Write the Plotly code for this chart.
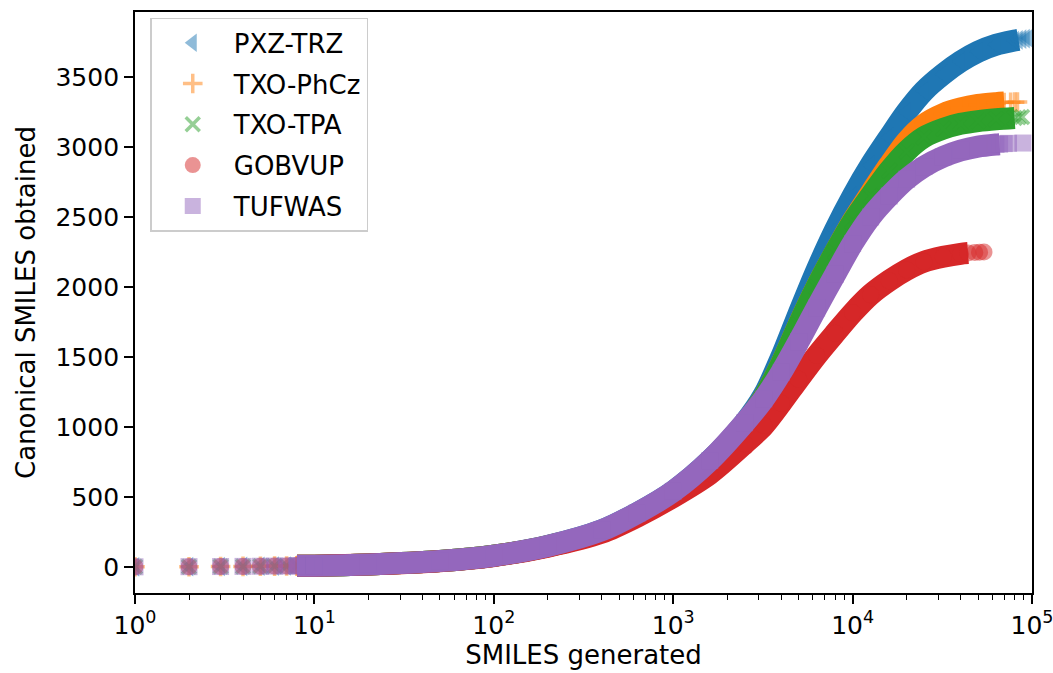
import plotly.graph_objects as go

# ---------------- data ----------------
names = ["PXZ-TRZ", "TXO-PhCz", "TXO-TPA", "GOBVUP", "TUFWAS"]
colors = ["#1f77b4", "#ff7f0e", "#2ca02c", "#d62728", "#9467bd"]
rgba = ["rgba(31,119,180,0.5)", "rgba(255,127,14,0.5)", "rgba(44,160,44,0.5)",
        "rgba(214,39,40,0.5)", "rgba(148,103,189,0.5)"]
symbols = ["triangle-left", "cross-thin", "x-thin", "circle", "square"]

# first few discrete points (shared by all runs)
low_x = [1, 2, 3, 4, 5, 6, 7, 8, 9, 10]
low_y = [1, 2, 3, 4, 5, 6, 7, 8, 9, 10]

# dense part of each run
pxz_x = [8, 10, 20, 50, 100, 200, 400, 630, 1000, 1600, 2500, 3200, 4000, 5000, 6300,
         8000, 10000, 12600, 16000, 20000, 25000, 32000, 40000, 50000, 63000, 80000, 84000]
pxz_y = [8, 9, 18, 42, 80, 150, 262, 385, 540, 760, 1030, 1230, 1500, 1810, 2120,
         2410, 2650, 2870, 3070, 3250, 3400, 3520, 3610, 3680, 3730, 3760, 3765]
pxz_end_x = [88000, 92000, 96000]
pxz_end_y = [3770, 3774, 3777]

phcz_x = [8, 10, 20, 50, 100, 200, 400, 630, 1000, 1600, 2500, 3200, 4000, 5000, 6300,
          8000, 10000, 12600, 16000, 20000, 25000, 32000, 40000, 50000, 63000, 70000]
phcz_y = [8, 9, 18, 42, 80, 148, 255, 375, 525, 745, 1020, 1210, 1450, 1730, 2000,
          2250, 2470, 2670, 2870, 3040, 3160, 3235, 3275, 3300, 3313, 3317]
phcz_end_x = [76000, 80000, 83000]
phcz_end_y = [3319, 3320, 3321]

tpa_x = [8, 10, 20, 50, 100, 200, 400, 630, 1000, 1600, 2500, 3200, 4000, 5000, 6300,
         8000, 10000, 12600, 16000, 20000, 25000, 32000, 40000, 50000, 63000, 80000]
tpa_y = [8, 9, 18, 42, 80, 148, 255, 375, 525, 745, 1020, 1210, 1450, 1730, 2000,
         2250, 2465, 2650, 2830, 2970, 3070, 3130, 3165, 3185, 3198, 3207]
tpa_end_x = [84000, 88000]
tpa_end_y = [3212, 3214]

gob_x = [8, 10, 20, 50, 100, 200, 400, 630, 1000, 1600, 2500, 3200, 4000, 5000, 6300,
         8000, 10000, 12600, 16000, 20000, 25000, 32000, 40000, 44000]
gob_y = [8, 9, 18, 41, 78, 145, 245, 360, 500, 665, 880, 1010, 1170, 1340, 1510,
         1670, 1815, 1945, 2045, 2122, 2180, 2215, 2237, 2242]
gob_end_x = [48000, 51000, 54000]
gob_end_y = [2246, 2248, 2250]

tuf_x = [8, 10, 20, 50, 100, 200, 400, 630, 1000, 1600, 2500, 3200, 4000, 5000, 6300,
         8000, 10000, 12600, 16000, 20000, 25000, 32000, 40000, 50000, 63000, 66000]
tuf_y = [8, 9, 18, 42, 80, 150, 262, 385, 540, 760, 1030, 1200, 1390, 1610, 1850,
         2090, 2310, 2500, 2650, 2770, 2860, 2930, 2975, 3003, 3018, 3020]
tuf_end_x = [70000, 74000, 89000]
tuf_end_y = [3024, 3026, 3028]

dense_x = [pxz_x, phcz_x, tpa_x, gob_x, tuf_x]
dense_y = [pxz_y, phcz_y, tpa_y, gob_y, tuf_y]
end_x = [pxz_end_x, phcz_end_x, tpa_end_x, gob_end_x, tuf_end_x]
end_y = [pxz_end_y, phcz_end_y, tpa_end_y, gob_end_y, tuf_end_y]

x_tick_vals = [1, 10, 100, 1000, 10000, 100000]
x_tick_text = ["10<sup>0</sup>", "10<sup>1</sup>", "10<sup>2</sup>",
               "10<sup>3</sup>", "10<sup>4</sup>", "10<sup>5</sup>"]
y_tick_vals = [0, 500, 1000, 1500, 2000, 2500, 3000, 3500]
minor_vals = [m * 10 ** k for k in range(5) for m in range(2, 10)]

# ---------------- figure ----------------
FONT = "DejaVu Sans"
fig = go.Figure()
for i, name in enumerate(names):
    # dense band
    fig.add_trace(go.Scatter(
        x=dense_x[i], y=dense_y[i], mode="lines",
        line=dict(color=colors[i], width=22, shape="spline", smoothing=0.8),
        showlegend=False, legendgroup=name, hoverinfo="skip"))
    mx = low_x + dense_x[i] + end_x[i]
    my = low_y + dense_y[i] + end_y[i]
    thin = symbols[i] in ("cross-thin", "x-thin")
    marker = dict(symbol=symbols[i], size=14 if thin else 17, color=rgba[i],
                  line=dict(color=rgba[i], width=3.5 if thin else 0))
    fig.add_trace(go.Scatter(
        x=mx, y=my, mode="markers", name=name, marker=marker,
        legendgroup=name))

axis_common = dict(showline=True, linecolor="black", linewidth=1.8, mirror=True,
                   ticks="outside", ticklen=9, tickwidth=1.6, tickcolor="black",
                   showgrid=False, zeroline=False, ticklabeloverflow="allow",
                   tickfont=dict(family=FONT, size=25, color="black"))

fig.update_layout(
    width=1053, height=673,
    margin=dict(l=135, r=21, t=12, b=80),
    paper_bgcolor="white", plot_bgcolor="white",
    font=dict(family=FONT, size=25, color="black"),
    xaxis=dict(type="log", range=[0, 5], tickvals=x_tick_vals, ticktext=x_tick_text,
               title=dict(text="SMILES generated", standoff=4,
                          font=dict(family=FONT, size=26)),
               minor=dict(tickvals=minor_vals, ticks="outside", ticklen=5,
                          tickwidth=1.3, tickcolor="black"),
               automargin=False,
               **axis_common),
    yaxis=dict(range=[-186, 3964], tickvals=y_tick_vals,
               title=dict(text="Canonical SMILES obtained", standoff=12,
                          font=dict(family=FONT, size=26)),
               automargin=False,
               **axis_common),
    legend=dict(x=0.017, y=0.99, xanchor="left", yanchor="top",
                bgcolor="rgba(255,255,255,0.8)", bordercolor="#cccccc", borderwidth=1.5,
                font=dict(family=FONT, size=26, color="black"),
                tracegroupgap=4, itemwidth=72),
)

fig.write_html("out.html")
